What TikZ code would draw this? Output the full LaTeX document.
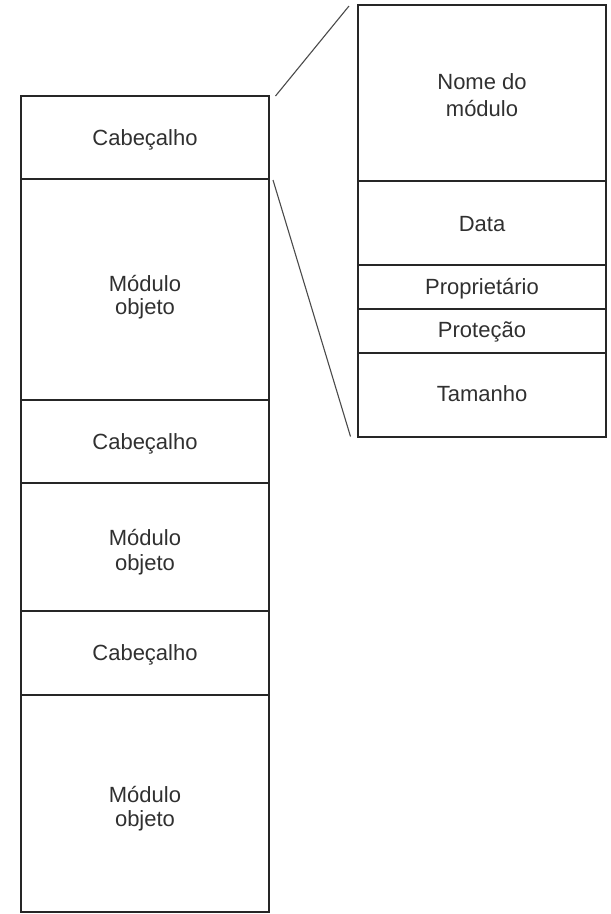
\documentclass[tikz,border=0pt]{standalone}
\usepackage{fontspec}
\setmainfont{Liberation Sans}
\definecolor{boxline}{HTML}{262626}
\definecolor{txt}{HTML}{303030}
\definecolor{conn}{HTML}{4A4A4A}
\begin{document}
\begin{tikzpicture}[x=1pt,y=-1pt,
  cell/.style={draw=boxline, line width=2pt, rectangle, inner sep=0pt,
    minimum width=248pt},
  lbl/.style={text=txt, inner sep=0pt, anchor=base,
    font=\fontsize{22pt}{24pt}\selectfont},
  link/.style={draw=conn, line width=1.1pt}]
\useasboundingbox (0,0) rectangle (611,914);
% left column
\node[cell, minimum height=83pt]  (h1) at (145,137.5) {};
\node[cell, minimum height=221pt] (m1) at (145,289.5) {};
\node[cell, minimum height=83pt]  (h2) at (145,441.5) {};
\node[cell, minimum height=128pt] (m2) at (145,547)   {};
\node[cell, minimum height=84pt]  (h3) at (145,653)   {};
\node[cell, minimum height=217pt] (m3) at (145,803.5) {};
\node[lbl] (h1t)  at (145,145)   {Cabeçalho};
\node[lbl] (m1a)  at (145,291)   {Módulo};
\node[lbl] (m1b)  at (145,314.5) {objeto};
\node[lbl] (h2t)  at (145,449)   {Cabeçalho};
\node[lbl] (m2a)  at (145,545.7) {Módulo};
\node[lbl] (m2b)  at (145,570)   {objeto};
\node[lbl] (h3t)  at (145,660.7) {Cabeçalho};
\node[lbl] (m3a)  at (145,802.3) {Módulo};
\node[lbl] (m3b)  at (145,826.7) {objeto};
% right column
\node[cell, minimum height=176pt] (nm) at (482,93)  {};
\node[cell, minimum height=84pt]  (dt) at (482,223) {};
\node[cell, minimum height=44pt]  (pr) at (482,287) {};
\node[cell, minimum height=44pt]  (pt) at (482,331) {};
\node[cell, minimum height=84pt]  (tm) at (482,395) {};
\node[lbl] (nma) at (482,89.3)  {Nome do};
\node[lbl] (nmb) at (482,116.7) {módulo};
\node[lbl] (dtt) at (482,231)   {Data};
\node[lbl] (prt) at (482,294)   {Proprietário};
\node[lbl] (ptt) at (482,337.7) {Proteção};
\node[lbl] (tmt) at (482,401.7) {Tamanho};
% connectors
\coordinate (a1) at (275.5,96);
\coordinate (a2) at (349,6);
\coordinate (b1) at (273,180);
\coordinate (b2) at (350.5,436.5);
\draw[link] (a1) -- (a2);
\draw[link] (b1) -- (b2);
\end{tikzpicture}
\end{document}
